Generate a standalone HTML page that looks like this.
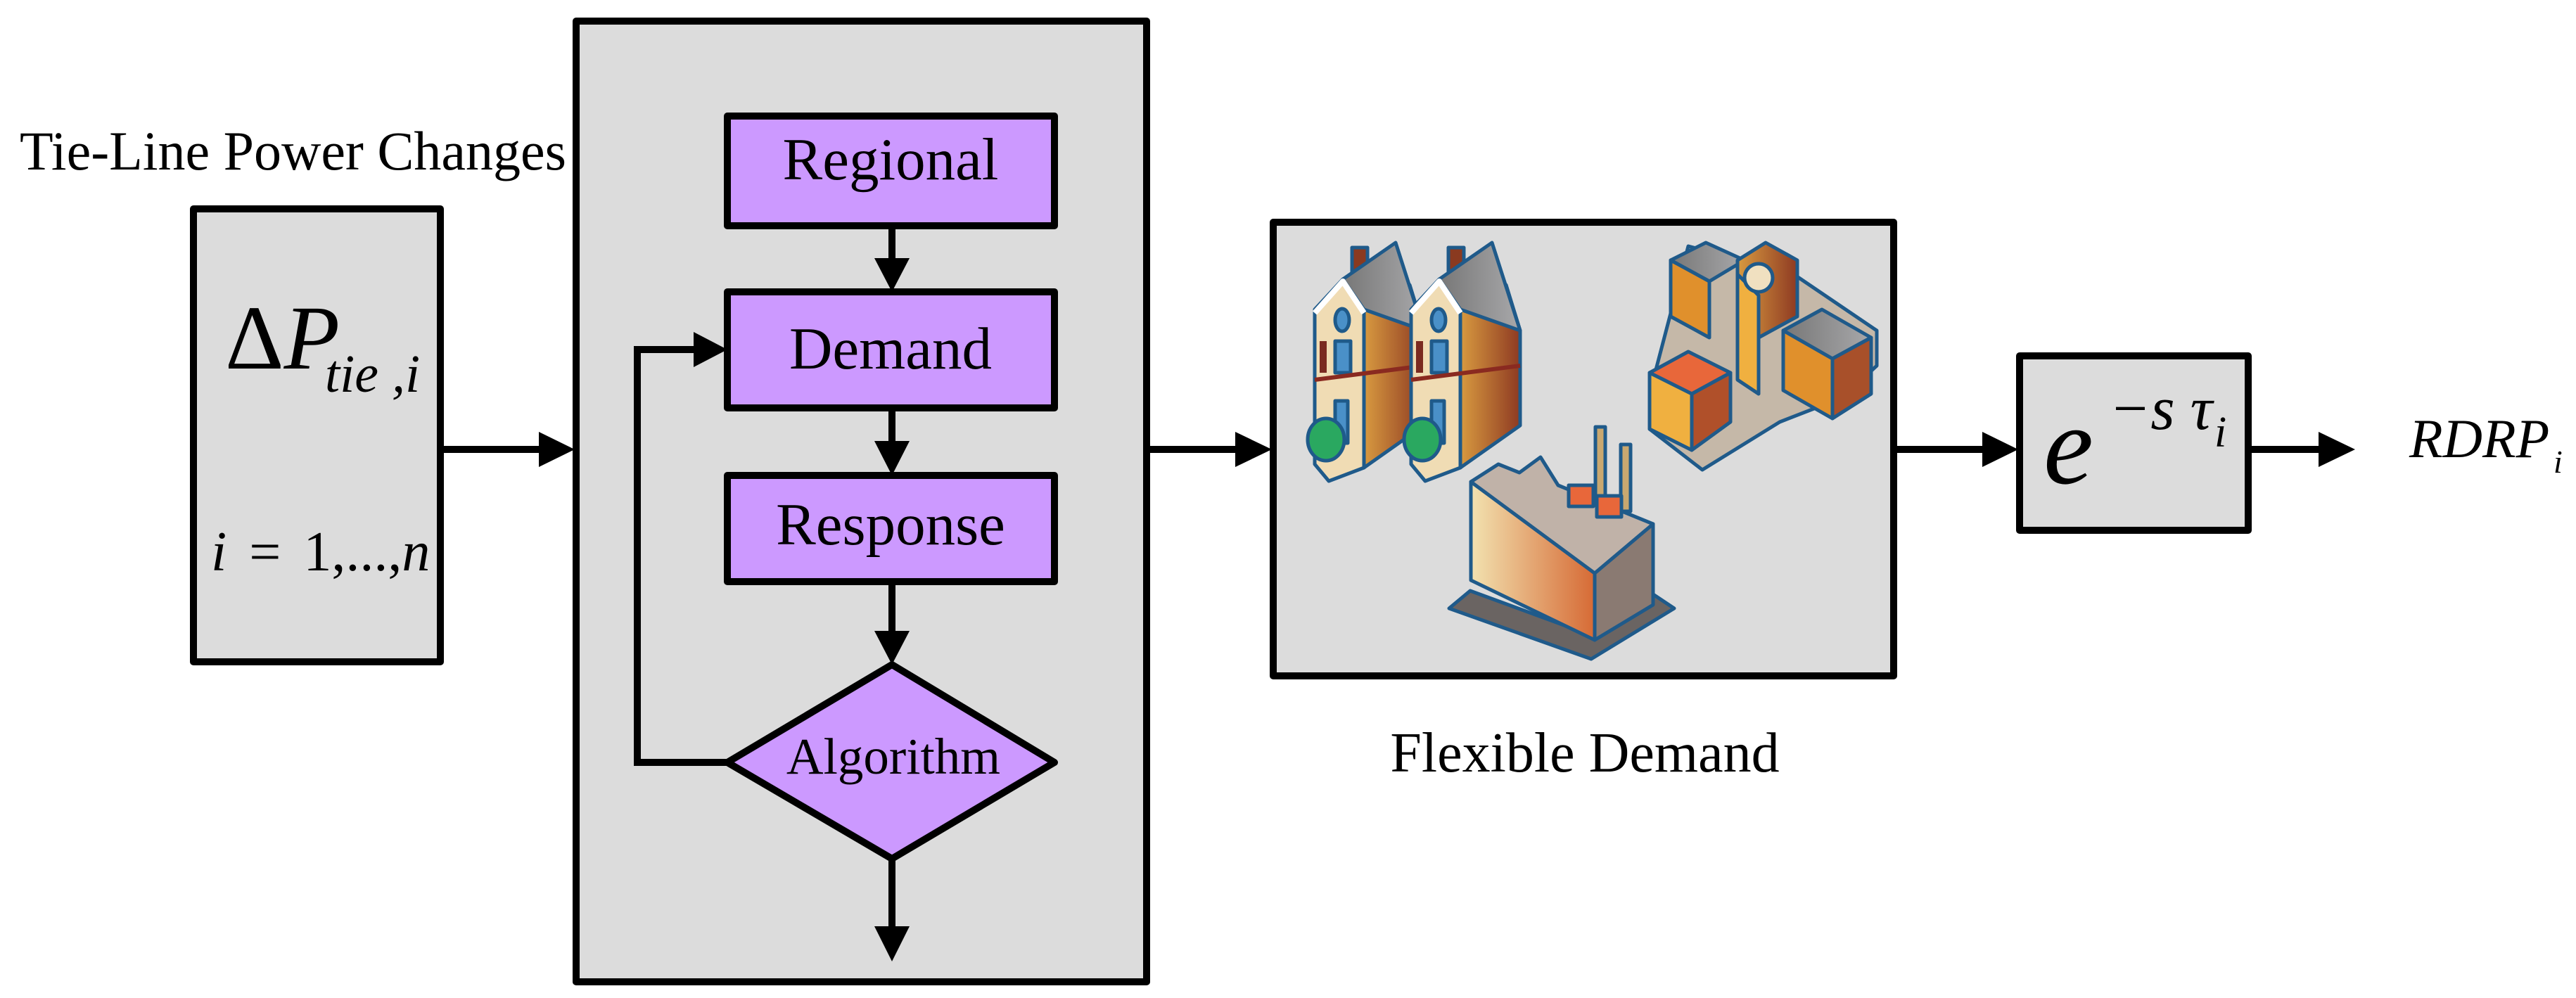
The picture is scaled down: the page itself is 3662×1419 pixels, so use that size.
<!DOCTYPE html>
<html><head><style>html,body{margin:0;padding:0;background:#fff;}svg{display:block}</style></head>
<body>
<svg width="3662" height="1419" viewBox="0 0 3662 1419" xmlns="http://www.w3.org/2000/svg" font-family="Liberation Serif, serif">
<defs>
<linearGradient id="br" x1="0" x2="1"><stop offset="0" stop-color="#d89a40"/><stop offset="1" stop-color="#8e3a22"/></linearGradient>
<linearGradient id="gr" x1="0" x2="1"><stop offset="0" stop-color="#777"/><stop offset="1" stop-color="#a8a8aa"/></linearGradient>
<linearGradient id="fr" x1="0" x2="1"><stop offset="0" stop-color="#f2e2b0"/><stop offset="1" stop-color="#d66a35"/></linearGradient>
</defs>
<g stroke="#000" stroke-width="10" stroke-linejoin="round">
<rect x="275" y="297" width="351" height="644" fill="#dcdcdc"/>
<rect x="819" y="30" width="811" height="1366" fill="#dcdcdc"/>
<rect x="1810" y="316" width="882" height="645" fill="#dcdcdc"/>
<rect x="2871" y="506" width="325" height="248" fill="#dcdcdc"/>
<rect x="1034" y="165" width="465" height="156" fill="#cc99ff"/>
<rect x="1034" y="415" width="465" height="165" fill="#cc99ff"/>
<rect x="1034" y="676" width="465" height="151" fill="#cc99ff"/>
<polygon points="1268,945 1499,1084 1268,1221 1034,1084" fill="#cc99ff"/>
</g>
<g stroke="#000" stroke-width="10" fill="none">
<line x1="626" y1="639" x2="770" y2="639"/>
<line x1="1630" y1="639" x2="1760" y2="639"/>
<line x1="2692" y1="639" x2="2820" y2="639"/>
<line x1="3196" y1="639" x2="3300" y2="639"/>
<line x1="1268" y1="321" x2="1268" y2="370"/>
<line x1="1268" y1="580" x2="1268" y2="630"/>
<line x1="1268" y1="827" x2="1268" y2="900"/>
<line x1="1268" y1="1221" x2="1268" y2="1320"/>
<polyline points="1034,1084 906,1084 906,497 990,497"/>
</g>
<g fill="#000">
<polygon points="766,614 817,639 766,664"/>
<polygon points="1756,614 1808,639 1756,664"/>
<polygon points="2818,614 2869,639 2818,664"/>
<polygon points="3296,614 3348,639 3296,664"/>
<polygon points="1243,367 1293,367 1268,415"/>
<polygon points="1243,627 1293,627 1268,676"/>
<polygon points="1243,897 1293,897 1268,945"/>
<polygon points="1243,1317 1293,1317 1268,1367"/>
<polygon points="986,472 1034,497 986,522"/>
</g>
<text x="28" y="241" font-size="78">Tie-Line Power Changes</text>
<text x="1266" y="255" font-size="85" text-anchor="middle">Regional</text>
<text x="1266" y="524" font-size="85" text-anchor="middle">Demand</text>
<text x="1266" y="774" font-size="85" text-anchor="middle">Response</text>
<text x="1270" y="1100" font-size="73" text-anchor="middle">Algorithm</text>
<text x="2253" y="1097" font-size="80" text-anchor="middle">Flexible Demand</text>
<text x="320" y="524" font-size="130">Δ<tspan font-style="italic">P</tspan></text>
<text x="462" y="557" font-size="76" font-style="italic">tie ,i</text>
<text x="300" y="811" font-size="80" word-spacing="12"><tspan font-style="italic">i</tspan> = 1,...,<tspan font-style="italic">n</tspan></text>
<text x="2905" y="687" font-size="160" font-style="italic">e</text>
<text x="2998" y="610" font-size="88" font-style="italic">−s τ</text>
<text x="3148" y="635" font-size="62" font-style="italic">i</text>
<text x="3425" y="650" font-size="78" font-style="italic">RDRP</text>
<text x="3630" y="672" font-size="46" font-style="italic">i</text>
<!-- houses -->
<g stroke="#1f5a8a" stroke-width="5" stroke-linejoin="round">
<g id="h">
<rect x="1922" y="352" width="22" height="45" fill="#8a3a20"/>
<polygon points="1939,440 2004,405 2024,470 2024,605 1939,665" fill="url(#br)"/>
<polygon points="1869,440 1909,397 1939,440 1939,665 1889,684 1869,660" fill="#f0dcb4"/>
<polygon points="1909,397 1984,345 2024,470 1939,440" fill="url(#gr)"/>
<polyline points="1869,445 1909,400 1939,445" fill="none" stroke="#fff" stroke-width="8"/>
<ellipse cx="1908" cy="455" rx="10" ry="16" fill="#4a90c8"/>
<rect x="1898" y="485" width="22" height="45" fill="#4a90c8"/>
<rect x="1876" y="485" width="10" height="45" fill="#7a2a20" stroke="none"/>
<rect x="1898" y="570" width="18" height="60" fill="#4a90c8"/>
<line x1="1869" y1="540" x2="2024" y2="520" stroke="#8a2a20" stroke-width="6"/>
<ellipse cx="1885" cy="625" rx="26" ry="30" fill="#2aa860"/>
</g>
<use href="#h" x="137"/>
<!-- shop -->
<polygon points="2345,560 2345,610 2420,668 2530,600 2620,565 2668,520 2668,470 2550,390 2400,350" fill="#c5b8a8"/>
<polygon points="2375,370 2425,345 2480,370 2430,400" fill="url(#gr)"/>
<polygon points="2375,370 2430,400 2430,480 2375,450" fill="#e0902c"/>
<polygon points="2470,370 2510,345 2555,370 2555,450 2500,480 2470,460" fill="url(#br)"/>
<polygon points="2470,390 2500,420 2500,560 2470,540" fill="#f0b040"/>
<circle cx="2500" cy="395" r="20" fill="#f0e0c0"/>
<polygon points="2535,470 2590,440 2660,480 2605,510" fill="url(#gr)"/>
<polygon points="2535,470 2605,510 2605,595 2535,555" fill="#e0902c"/>
<polygon points="2605,510 2660,480 2660,560 2605,595" fill="#a8502a"/>
<polygon points="2345,530 2400,500 2460,530 2405,560" fill="#e8673a"/>
<polygon points="2345,530 2405,560 2405,640 2345,610" fill="#f0b040"/>
<polygon points="2405,560 2460,530 2460,600 2405,640" fill="#b0502a"/>
<!-- factory -->
<polygon points="2060,865 2262,937 2380,865 2350,845 2267,905 2090,840" fill="#6a6462"/>
<rect x="2268" y="607" width="14" height="110" fill="#c9a870"/>
<rect x="2304" y="632" width="14" height="95" fill="#c9a870"/>
<polygon points="2091,685 2267,815 2267,910 2091,825" fill="url(#fr)"/>
<polygon points="2267,815 2350,745 2350,860 2267,910" fill="#8a7a72"/>
<polygon points="2091,685 2130,660 2160,672 2190,650 2215,690 2350,745 2267,815" fill="#c0b2a8"/>
<rect x="2230" y="690" width="35" height="30" fill="#e8673a"/>
<rect x="2270" y="705" width="35" height="30" fill="#e8673a"/>
</g>
</svg>
</body></html>
